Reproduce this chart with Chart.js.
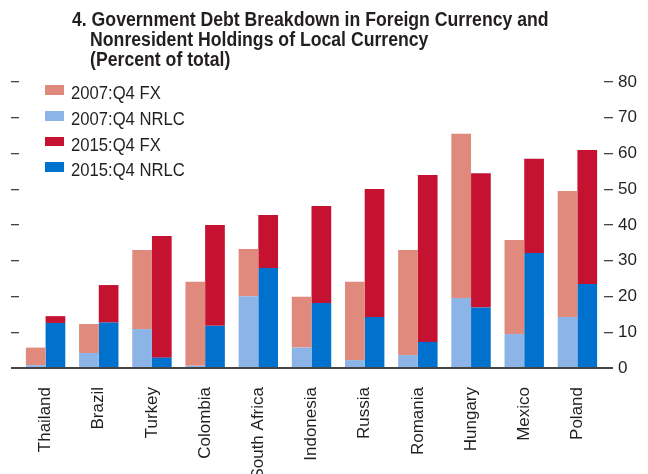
<!DOCTYPE html>
<html>
<head>
<meta charset="utf-8">
<script src="https://cdn.jsdelivr.net/npm/chart.js@4.4.1/dist/chart.umd.min.js"></script>
<style>
    body { margin: 0; background: #fff; }
    #wrap { position: relative; width: 648px; height: 474px; }
    #title {
        position: absolute; left: 72px; top: 9px;
        padding-left: 20px; text-indent: -20px;
        font-family: "Liberation Sans Narrow", "Liberation Sans", sans-serif;
        font-weight: bold; font-size: 19.5px; line-height: 20px;
        color: #231f20; white-space: nowrap;
        transform: scaleX(0.905); transform-origin: 0 0;
    }
    .legend-row {
        position: absolute; left: 45px; height: 20px;
        font-family: "Liberation Sans Narrow", "Liberation Sans", sans-serif;
        font-size: 18.5px; line-height: 18.5px; color: #231f20; white-space: nowrap;
    }
    .legend-row span.box {
        position: absolute; left: 0; top: 1px; width: 19px; height: 9.5px;
    }
    .legend-row span.txt {
        position: absolute; left: 25.5px; top: 0;
        transform: scaleX(0.9); transform-origin: 0 0;
    }
</style>
</head>
<body>
<div id="wrap">
    <canvas id="debt-chart"></canvas>
    <div id="title">4. Government Debt Breakdown in Foreign Currency and<br>Nonresident Holdings of Local Currency<br>(Percent of total)</div>
    <div id="legend"></div>
</div>
<script>
    const countries = ["Thailand", "Brazil", "Turkey", "Colombia", "South Africa", "Indonesia",
        "Russia", "Romania", "Hungary", "Mexico", "Poland"];

    // stacked segments, percent of total
    const nrlc2007 = [0.8, 4.2, 10.9, 0.6, 20.1, 5.7, 2.2, 3.6, 19.6, 9.5, 14.3];
    const fx2007 = [4.9, 8.1, 22.1, 23.5, 13.2, 14.2, 21.9, 29.4, 45.9, 26.3, 35.2];
    const nrlc2015 = [12.6, 12.7, 2.9, 11.8, 28.0, 18.2, 14.3, 7.3, 16.9, 32.2, 23.5];
    const fx2015 = [1.9, 10.5, 34.0, 28.2, 14.8, 27.1, 35.8, 46.7, 37.6, 26.3, 37.5];

    const yTicks = [0, 10, 20, 30, 40, 50, 60, 70, 80];

    const colors = {
        fx07: '#e0897d',
        nrlc07: '#8db4e7',
        fx15: '#c41230',
        nrlc15: '#0072ce'
    };

    const tickColor = '#444';

    var ctx = document.getElementById('debt-chart').getContext('2d');
    var debtChart = new Chart(ctx, {
        type: 'bar',
        data: {
            labels: countries,
            datasets: [
                { label: '2007:Q4 NRLC', data: nrlc2007, backgroundColor: colors.nrlc07, stack: 's2007' },
                { label: '2007:Q4 FX', data: fx2007, backgroundColor: colors.fx07, stack: 's2007' },
                { label: '2015:Q4 NRLC', data: nrlc2015, backgroundColor: colors.nrlc15, stack: 's2015' },
                { label: '2015:Q4 FX', data: fx2015, backgroundColor: colors.fx15, stack: 's2015' }
            ]
        },
        options: {
            responsive: true,
            maintainAspectRatio: false,
            animation: false,
            layout: { padding: { top: 82, left: 0, right: 0, bottom: 0 } },
            datasets: {
                bar: { categoryPercentage: 0.741, barPercentage: 1.0, borderWidth: 0 }
            },
            plugins: {
                legend: { display: false },
                tooltip: { enabled: false }
            },
            scales: {
                x: {
                    stacked: true,
                    grid: { display: false },
                    border: { display: true, color: tickColor, width: 2 },
                    ticks: {
                        minRotation: 90, maxRotation: 90, padding: 11,
                        color: '#231f20',
                        font: { family: 'Liberation Sans', size: 17 }
                    },
                    afterFit: function (scale) { scale.height = 106; }
                },
                y: {
                    position: 'left',
                    stacked: true,
                    min: 0, max: 80,
                    afterBuildTicks: function (scale) { scale.ticks = yTicks.map(v => ({ value: v })); },
                    grid: {
                        drawOnChartArea: false, drawTicks: true, tickLength: 8,
                        color: tickColor,
                        lineWidth: c => (c.tick && c.tick.value === 0 ? 2 : 1.3)
                    },
                    border: { display: false },
                    ticks: { display: false },
                    afterFit: function (scale) { scale.width = 19; }
                },
                y2: {
                    position: 'right',
                    min: 0, max: 80,
                    afterBuildTicks: function (scale) { scale.ticks = yTicks.map(v => ({ value: v })); },
                    grid: {
                        drawOnChartArea: false, drawTicks: true, tickLength: 9,
                        color: tickColor,
                        lineWidth: c => (c.tick && c.tick.value === 0 ? 2 : 1.3)
                    },
                    border: { display: false },
                    ticks: {
                        padding: 5, color: '#231f20',
                        font: { family: 'Liberation Sans', size: 17 }
                    },
                    afterFit: function (scale) { scale.width = 44; }
                }
            }
        }
    });

    // legend drawn in the order of the original figure
    const legendOrder = ['2007:Q4 FX', '2007:Q4 NRLC', '2015:Q4 FX', '2015:Q4 NRLC'];
    const legendEl = document.getElementById('legend');
    legendOrder.forEach(function (name, i) {
        const ds = debtChart.data.datasets.find(d => d.label === name);
        const row = document.createElement('div');
        row.className = 'legend-row';
        row.style.top = (84.4 + i * 25.6) + 'px';
        row.innerHTML = '<span class="box" style="background:' + ds.backgroundColor + '"></span>' +
            '<span class="txt">' + name + '</span>';
        legendEl.appendChild(row);
    });
</script>
</body>
</html>
